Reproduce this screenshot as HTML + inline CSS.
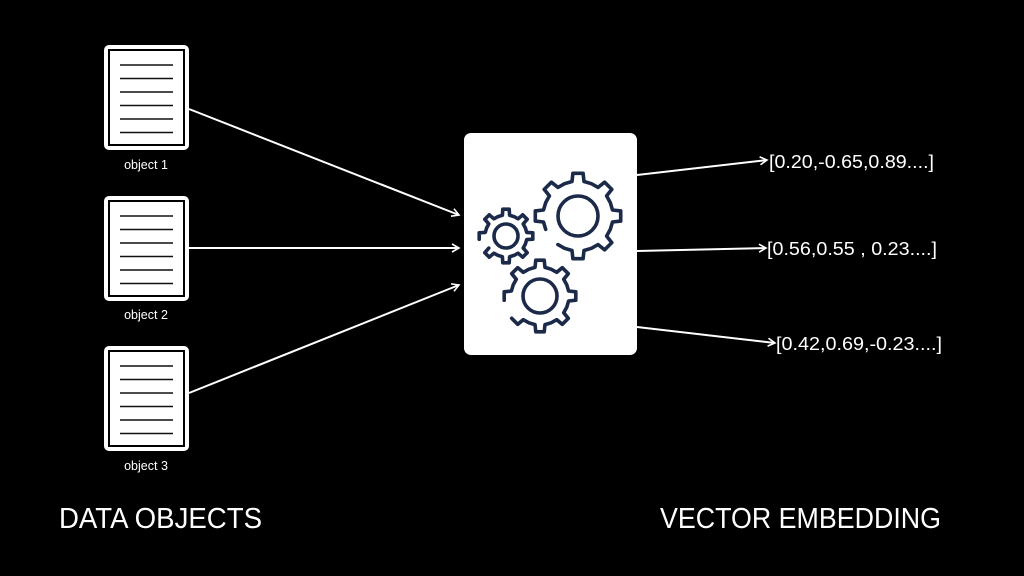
<!DOCTYPE html>
<html><head><meta charset="utf-8"><style>
html,body{margin:0;padding:0;background:#000;width:1024px;height:576px;overflow:hidden}
svg{display:block}
text{font-family:"Liberation Sans",sans-serif;fill:#fff}
</style></head><body>
<svg id="s" width="1024" height="576" viewBox="0 0 1024 576" xmlns="http://www.w3.org/2000/svg">
<defs>
<marker id="a" markerWidth="10" markerHeight="10" refX="8" refY="5" orient="auto" markerUnits="userSpaceOnUse">
<path d="M1,1 L8,5 L1,9" fill="none" stroke="#fff" stroke-width="1.6"/>
</marker>
<g id="doc">
<rect x="0" y="0" width="85" height="105" rx="5" fill="#fff"/>
<rect x="4" y="4" width="77" height="97" fill="#000"/>
<rect x="6" y="6" width="73" height="93" fill="#fff"/>
<g stroke="#111" stroke-width="1.6">
<line x1="16" y1="20" x2="69" y2="20"/><line x1="16" y1="33.5" x2="69" y2="33.5"/>
<line x1="16" y1="47" x2="69" y2="47"/><line x1="16" y1="60.5" x2="69" y2="60.5"/>
<line x1="16" y1="74" x2="69" y2="74"/><line x1="16" y1="87.5" x2="69" y2="87.5"/>
</g>
</g>
</defs>
<use href="#doc" x="104" y="45"/>
<use href="#doc" x="104" y="196"/>
<use href="#doc" x="104" y="346"/>
<text x="146" y="169" font-size="12.5" text-anchor="middle">object 1</text>
<text x="146" y="319" font-size="12.5" text-anchor="middle">object 2</text>
<text x="146" y="470" font-size="12.5" text-anchor="middle">object 3</text>
<g stroke="#fff" stroke-width="2" fill="none" marker-end="url(#a)">
<line x1="189" y1="109" x2="459" y2="215"/>
<line x1="189" y1="248" x2="459" y2="248"/>
<line x1="189" y1="393" x2="459" y2="285"/>
<line x1="637" y1="175" x2="767" y2="160"/>
<line x1="637" y1="251" x2="766" y2="248"/>
<line x1="637" y1="327" x2="775" y2="343"/>
</g>
<rect x="464" y="133" width="173" height="222" rx="7" fill="#fff"/>
<g id="gears" fill="none" stroke="#1c2a4a" stroke-width="3.6" stroke-linecap="round" stroke-linejoin="round"></g>
<text x="769" y="168" font-size="18.5" textLength="165" lengthAdjust="spacingAndGlyphs">[0.20,-0.65,0.89....]</text>
<text x="767" y="255" font-size="18.5" textLength="170" lengthAdjust="spacingAndGlyphs">[0.56,0.55 , 0.23....]</text>
<text x="776" y="350" font-size="18.5" textLength="166" lengthAdjust="spacingAndGlyphs">[0.42,0.69,-0.23....]</text>
<text x="59" y="528" font-size="28.5" textLength="203" lengthAdjust="spacingAndGlyphs">DATA OBJECTS</text>
<text x="660" y="528" font-size="28.5" textLength="281" lengthAdjust="spacingAndGlyphs">VECTOR EMBEDDING</text>
</svg>
<script>
function gear(cx,cy,ro,ri,n,rc,gapStart,gapEnd){
  var g=document.getElementById('gears');
  var pts=[],N=n*4;
  var step=2*Math.PI/n;
  var d='';
  var segs=[];
  for(var i=0;i<n;i++){
    var a=i*step;
    var t=[a-step*0.5, a-step*0.22, a-step*0.15, a+step*0.15, a+step*0.22, a+step*0.5];
    var r=[ri,ri,ro,ro,ri,ri];
    for(var k=0;k<6;k++)segs.push([t[k],r[k]]);
  }
  var first=true;
  segs.forEach(function(p){
    var ang=((p[0]%(2*Math.PI))+2*Math.PI)%(2*Math.PI);
    var inGap = gapStart!=null && ang>gapStart && ang<gapEnd;
    if(inGap){first=true;return;}
    var x=cx+p[1]*Math.cos(p[0]), y=cy+p[1]*Math.sin(p[0]);
    d+=(first?'M':'L')+x.toFixed(1)+','+y.toFixed(1)+' ';
    first=false;
  });
  var path=document.createElementNS('http://www.w3.org/2000/svg','path');
  path.setAttribute('d',d);g.appendChild(path);
  var c=document.createElementNS('http://www.w3.org/2000/svg','circle');
  c.setAttribute('cx',cx);c.setAttribute('cy',cy);c.setAttribute('r',rc);g.appendChild(c);
}
gear(578,216,43,35,8,20,2.2,2.7);
gear(506,236,27,21,8,12,2.6,3.0);
gear(540,296,36,29,8,17,2.5,3.0);
</script>
</body></html>
